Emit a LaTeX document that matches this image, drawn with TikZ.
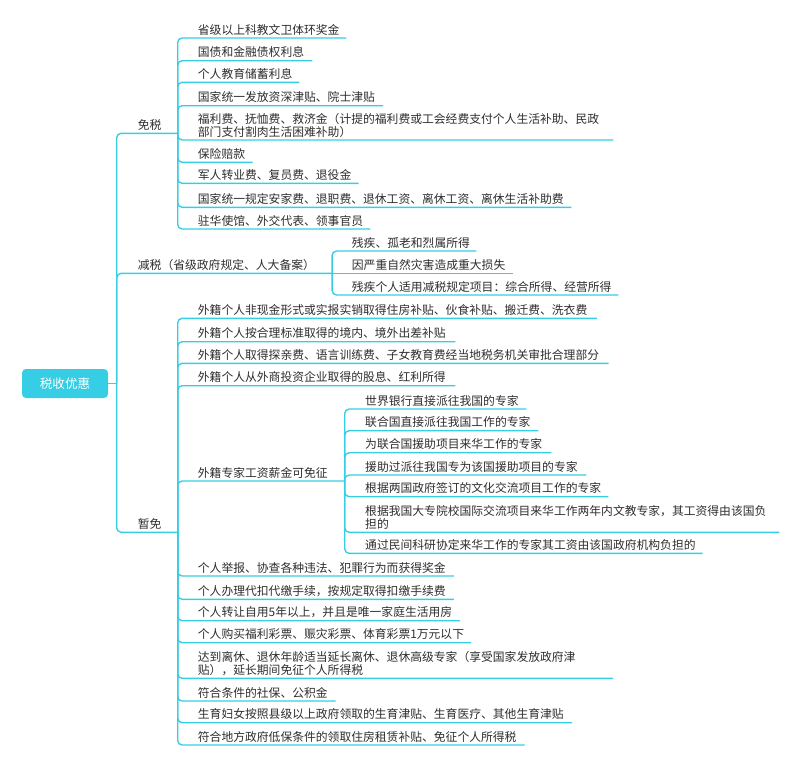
\documentclass[tikz,border=0pt]{standalone}
\usepackage{fontspec}
\newfontfamily\cjkf{Noto Sans CJK SC}
\definecolor{br}{RGB}{54,206,228}
\definecolor{tx}{RGB}{45,45,45}
\newcommand\mmconn[2]{\draw[line] (#1.south east) |- (#2.south west) -- (#2.south east);}
\begin{document}
\begin{tikzpicture}[x=1pt,y=-1pt,
  line/.style={draw=br, line width=1.4pt, rounded corners=4.5pt},
  leaf/.style={anchor=south west, inner xsep=0pt, inner ysep=3.8pt, text depth=0pt,
    align=left, font=\cjkf\fontsize{11.8}{11.8}\selectfont, text=tx},
  two/.style={text depth=12.4pt, font=\cjkf\fontsize{11.8}{12.4}\selectfont},
  rootbox/.style={fill=br, rounded corners=4pt, minimum width=86pt, minimum height=29pt,
    inner sep=0pt, text=white, font=\cjkf\fontsize{12.6}{12.6}\selectfont}
]
\useasboundingbox (0,0) rectangle (800,766);

% root
\node[rootbox] (root) at (65,383.5) {税收优惠};
\coordinate (j0) at (116.7,383.5);
\draw[line] (root.east) -- (j0);

% level 1
\node[leaf, text width=39.6pt] (mian) at (137.7,133.3) {免税};
\node[leaf, text width=194pt] (jian) at (137.7,273.3) {减税（省级政府规定、人大备案）};
\node[leaf, text width=39.6pt] (zan) at (137.7,532.3) {暂免};
\draw[line] (j0) |- (mian.south west) -- (mian.south east);
\draw[line] (j0) |- (jian.south west) -- (jian.south east);
\draw[line] (j0) |- (zan.south west) -- (zan.south east);

% 免税
\node[leaf, text width=148.3pt] (m1) at (197.7,38) {省级以上科教文卫体环奖金};
\node[leaf, text width=114.3pt] (m2) at (197.7,60.7) {国债和金融债权利息};
\node[leaf, text width=101.3pt] (m3) at (197.7,82.3) {个人教育储蓄利息};
\node[leaf, text width=185pt] (m4) at (197.7,105.7) {国家统一发放资深津贴、院士津贴};
\node[leaf, two, text width=415.3pt] (m5) at (197.7,140) {福利费、抚恤费、救济金（计提的福利费或工会经费支付个人生活补助、民政\\部门支付割肉生活困难补助）};
\node[leaf, text width=54.6pt] (m6) at (197.7,162.3) {保险赔款};
\node[leaf, text width=160.6pt] (m7) at (197.7,183.3) {军人转业费、复员费、退役金};
\node[leaf, text width=373.3pt] (m8) at (197.7,207.3) {国家统一规定安家费、退职费、退休工资、离休工资、离休生活补助费};
\node[leaf, text width=172.3pt] (m9) at (197.7,229) {驻华使馆、外交代表、领事官员};
\foreach \c in {m1,m2,m3,m4,m5,m6,m7,m8,m9} {\mmconn{mian}{\c}}

% 减税
\node[leaf, text width=124.3pt] (j1) at (351.7,251) {残疾、孤老和烈属所得};
\node[leaf, text width=161pt] (j2) at (351.7,273.3) {因严重自然灾害造成重大损失};
\node[leaf, text width=266.3pt] (j3) at (351.7,295) {残疾个人适用减税规定项目：综合所得、经营所得};
\mmconn{jian}{j1}
\draw[line] (jian.south east) -- (j2.south east);
\mmconn{jian}{j3}

% 暂免
\node[leaf, text width=398.7pt] (z1) at (197.7,318.3) {外籍个人非现金形式或实报实销取得住房补贴、伙食补贴、搬迁费、洗衣费};
\node[leaf, text width=257.3pt] (z2) at (197.7,341.7) {外籍个人按合理标准取得的境内、境外出差补贴};
\node[leaf, text width=410.6pt] (z3) at (197.7,363.3) {外籍个人取得探亲费、语言训练费、子女教育费经当地税务机关审批合理部分};
\node[leaf, text width=257.3pt] (z4) at (197.7,385.7) {外籍个人从外商投资企业取得的股息、红利所得};
\node[leaf, text width=146.6pt] (z5) at (197.7,481) {外籍专家工资薪金可免征};
\node[leaf, text width=255.8pt] (z6) at (197.7,576) {个人举报、协查各种违法、犯罪行为而获得奖金};
\node[leaf, text width=255.8pt] (z7) at (197.7,599.3) {个人办理代扣代缴手续，按规定取得扣缴手续费};
\node[leaf, text width=262pt] (z8) at (197.7,620.7) {个人转让自用5年以上，并且是唯一家庭生活用房};
\node[leaf, text width=273pt] (z9) at (197.7,642.7) {个人购买福利彩票、赈灾彩票、体育彩票1万元以下};
\node[leaf, two, text width=415pt] (z10) at (197.7,678.3) {达到离休、退休年龄适当延长离休、退休高级专家（享受国家发放政府津\\贴），延长期间免征个人所得税};
\node[leaf, text width=137.6pt] (z11) at (197.7,701) {符合条件的社保、公积金};
\node[leaf, text width=374pt] (z12) at (197.7,722.7) {生育妇女按照县级以上政府领取的生育津贴、生育医疗、其他生育津贴};
\node[leaf, text width=326.6pt] (z13) at (197.7,745) {符合地方政府低保条件的领取住房租赁补贴、免征个人所得税};
\foreach \c in {z1,z2,z3,z4,z5,z6,z7,z8,z9,z10,z11,z12,z13} {\mmconn{zan}{\c}}

% 外籍专家
\node[leaf, text width=161pt] (w1) at (365,409) {世界银行直接派往我国的专家};
\node[leaf, text width=173pt] (w2) at (365,430.7) {联合国直接派往我国工作的专家};
\node[leaf, text width=186pt] (w3) at (365,452.7) {为联合国援助项目来华工作的专家};
\node[leaf, text width=221pt] (w4) at (365,475) {援助过派往我国专为该国援助项目的专家};
\node[leaf, text width=243pt] (w5) at (365,496.7) {根据两国政府签订的文化交流项目工作的专家};
\node[leaf, two, text width=414pt] (w6) at (365,532.3) {根据我国大专院校国际交流项目来华工作两年内文教专家，其工资得由该国负\\担的};
\node[leaf, text width=337.3pt] (w7) at (365,553.3) {通过民间科研协定来华工作的专家其工资由该国政府机构负担的};
\foreach \c in {w1,w2,w3,w4,w5,w6,w7} {\mmconn{z5}{\c}}
\end{tikzpicture}
\end{document}
